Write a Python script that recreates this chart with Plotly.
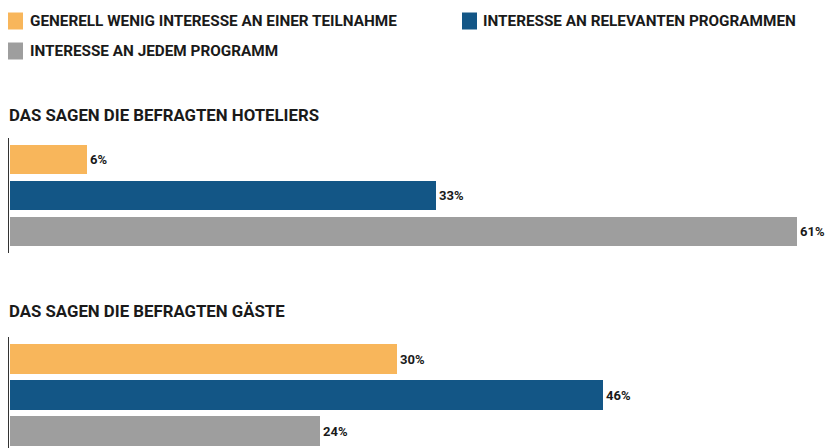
import plotly.graph_objects as go

# page has an 8px body margin; the figure is laid out in reference pixels minus 8
OFF = 8
W, H = 838 - OFF, 448 - OFF

series = [
    "GENERELL WENIG INTERESSE AN EINER TEILNAHME",
    "INTERESSE AN RELEVANTEN PROGRAMMEN",
    "INTERESSE AN JEDEM PROGRAMM",
]
colors = ["#F8B65B", "#135686", "#9E9E9E"]
groups = ["DAS SAGEN DIE BEFRAGTEN HOTELIERS", "DAS SAGEN DIE BEFRAGTEN GÄSTE"]
hoteliers = [6, 33, 61]
gaeste = [30, 46, 24]

FONT = "Roboto, DejaVu Sans, sans-serif"

def px_x(x):
    return (x - OFF) / W

def py(y):
    return 1 - (y - OFF) / H

fig = go.Figure()
for vals, ax in [(hoteliers, "y"), (gaeste, "y2")]:
    fig.add_trace(go.Bar(
        x=vals, y=series, orientation="h", yaxis=ax, xaxis="x" if ax == "y" else "x2",
        marker=dict(color=colors, line=dict(width=0)),
        width=0.83,
        text=[f"{v}%" for v in vals], textposition="outside",
        textfont=dict(family=FONT, size=13, color="#1a1a1a", weight="bold"),
        cliponaxis=False, showlegend=False, hoverinfo="skip",
    ))

PPU = 12.9  # pixels per percent
xdom = [1 / W, 1]
x0 = -1 / PPU
xr = [x0, x0 + (W - 1) / PPU]
layout = dict(
    width=W, height=H, margin=dict(l=0, r=0, t=0, b=0),
    paper_bgcolor="white", plot_bgcolor="white",
    bargap=0,
    xaxis=dict(domain=xdom, range=xr, visible=False, anchor="y"),
    xaxis2=dict(domain=xdom, range=xr, visible=False, anchor="y2"),
    yaxis=dict(domain=[py(253), py(138)], range=[2.6, -0.6], type="category",
               showticklabels=False, ticks="", showgrid=False, zeroline=False,
               showline=True, linecolor="#333333", linewidth=2, anchor="x"),
    yaxis2=dict(domain=[0, py(337)], range=[2.47, -0.6], type="category",
                showticklabels=False, ticks="", showgrid=False, zeroline=False,
                showline=True, linecolor="#333333", linewidth=2, anchor="x2"),
)
fig.update_layout(**layout)

# legend (manual)
leg_pos = [(8, 21, 28), (462, 21, 481), (8, 51, 28)]
for (lx, ly, tx), name, c in zip(leg_pos, series, colors):
    fig.add_shape(type="rect", xref="paper", yref="paper",
                  x0=px_x(lx), x1=px_x(lx + 15), y0=py(ly + 8.5), y1=py(ly - 8.5),
                  fillcolor=c, line=dict(width=0))
    fig.add_annotation(x=px_x(tx), y=py(ly), xref="paper", yref="paper",
                       text=name, showarrow=False, xanchor="left", yanchor="middle",
                       font=dict(family=FONT, size=15.3, color="#1a1a1a", weight="bold"))

# group titles
for (ty, t) in zip([115, 311], groups):
    fig.add_annotation(x=px_x(7), y=py(ty), xref="paper", yref="paper",
                       text=t, showarrow=False, xanchor="left", yanchor="middle",
                       font=dict(family=FONT, size=16.8, color="#1a1a1a", weight="bold"))

fig.write_html("out.html")
